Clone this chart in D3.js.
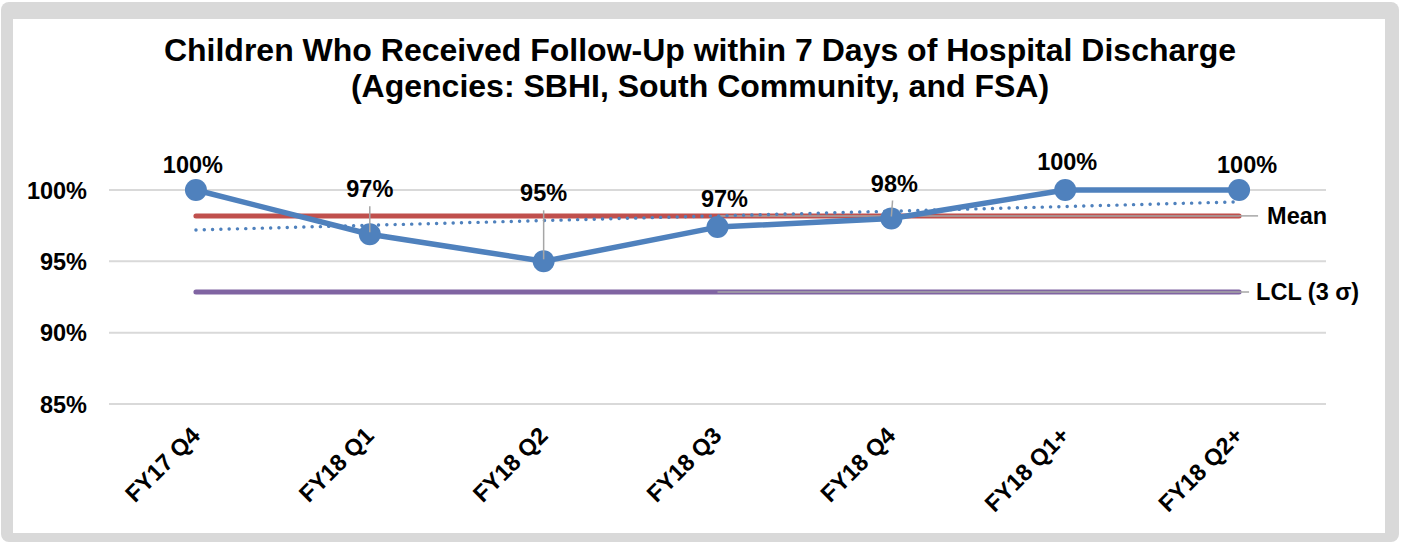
<!DOCTYPE html>
<html>
<head>
<meta charset="utf-8">
<script src="https://cdn.jsdelivr.net/npm/d3@7"></script>
<style>
  html, body { margin: 0; padding: 0; background: #ffffff; }
  svg text { font-family: "Liberation Sans", Arial, Helvetica, sans-serif; font-weight: bold; fill: #000; }
</style>
</head>
<body>
<svg id="chart" width="1401" height="543"></svg>
<script>
// ---------- data ----------
const categories = ["FY17 Q4", "FY18 Q1", "FY18 Q2", "FY18 Q3", "FY18 Q4", "FY18 Q1+", "FY18 Q2+"];
const values = [100, 96.9, 95.0, 97.4, 98.0, 100, 100];
const lclValues = [92.85, 92.85, 92.85, 92.85, 92.85, 92.85, 92.85];
const yTicks = [85, 90, 95, 100];
const titleLines = [
  "Children Who Received Follow-Up within 7 Days of Hospital Discharge",
  "(Agencies: SBHI, South Community, and FSA)"
];
const refLabels = ["Mean", "LCL (3 σ)"];

// derived series
const meanVal = d3.mean(values);
const meanValues = values.map(() => meanVal);
const xs = values.map((_, i) => i);
const mx = d3.mean(xs), my = meanVal;
const slope = d3.sum(xs, (x, i) => (x - mx) * (values[i] - my)) / d3.sum(xs, x => (x - mx) * (x - mx));
const trendValues = xs.map(x => my + slope * (x - mx));

// ---------- layout ----------
const W = 1401, H = 543;
const plot = { left: 109, right: 1326, top: 190, bottom: 404 };
const svg = d3.select("#chart");

// frame
svg.append("rect").attr("x", 1).attr("y", 2).attr("width", W - 3).attr("height", H - 3)
  .attr("rx", 8).attr("fill", "#d9d9d9");
svg.append("rect").attr("x", 13).attr("y", 19).attr("width", 1372).attr("height", 514)
  .attr("fill", "#ffffff");

// title
svg.append("g").selectAll("text").data(titleLines).join("text")
  .attr("x", 700).attr("y", (d, i) => 61 + i * 36)
  .attr("text-anchor", "middle").style("font-size", "32px")
  .text(d => d);

// scales
const x = d3.scalePoint().domain(categories).range([plot.left, plot.right]).padding(0.5);
const y = d3.scaleLinear().domain([85, 100]).range([plot.bottom, plot.top]);

// gridlines
svg.append("g").selectAll("line").data(yTicks).join("line")
  .attr("x1", plot.left).attr("x2", plot.right)
  .attr("y1", d => y(d)).attr("y2", d => y(d))
  .attr("stroke", "#d9d9d9").attr("stroke-width", 2);

// y axis labels (axis without domain/ticks)
const yAxis = d3.axisLeft(y).tickValues(yTicks).tickFormat(d => d + "%").tickSize(0).tickPadding(0);
const gy = svg.append("g").attr("transform", `translate(87,0)`).call(yAxis);
gy.select(".domain").remove();
gy.selectAll("text").attr("dy", null).attr("y", 8)
  .style("font-size", "23.5px").style("font-family", '"Liberation Sans", Arial, sans-serif')
  .style("font-weight", "bold").attr("fill", "#000");

// x axis labels
const xAxis = d3.axisBottom(x).tickSize(0);
const gx = svg.append("g").attr("transform", `translate(0,${plot.bottom})`).call(xAxis);
gx.select(".domain").remove();
gx.selectAll("text")
  .attr("dy", null).attr("y", 0).attr("x", 0)
  .attr("text-anchor", "end")
  .attr("transform", "translate(5,33) rotate(-45)")
  .style("font-size", "23.5px").style("font-family", '"Liberation Sans", Arial, sans-serif')
  .style("font-weight", "bold").attr("fill", "#000");

const line = d3.line().x((d, i) => x(categories[i])).y(d => y(d));

// LCL line
svg.append("path").datum(lclValues).attr("d", line)
  .attr("fill", "none").attr("stroke", "#8064a2").attr("stroke-width", 5).attr("stroke-linecap", "round");
// Mean line
svg.append("path").datum(meanValues).attr("d", line)
  .attr("fill", "none").attr("stroke", "#c0504d").attr("stroke-width", 5).attr("stroke-linecap", "round");

// grey projected segments (from FY18 Q3 onward)
const startIdx = 3;
[meanValues, lclValues].forEach(arr => {
  svg.append("path")
    .datum(arr.map((v, i) => i >= startIdx ? v : null))
    .attr("d", d3.line().defined(d => d !== null).x((d, i) => x(categories[i])).y(d => y(d)))
    .attr("fill", "none").attr("stroke", "#a6a6a6").attr("stroke-width", 1.5);
});

// trend line (dotted)
svg.append("path").datum(trendValues).attr("d", line)
  .attr("fill", "none").attr("stroke", "#4f81bd").attr("stroke-width", 3.4)
  .attr("stroke-linecap", "round").attr("stroke-dasharray", "0.1 8.2");

// main series
svg.append("path").datum(values).attr("d", line)
  .attr("fill", "none").attr("stroke", "#4f81bd").attr("stroke-width", 5.5).attr("stroke-linejoin", "round");
svg.append("g").selectAll("circle").data(values).join("circle")
  .attr("cx", (d, i) => x(categories[i])).attr("cy", d => y(d)).attr("r", 11)
  .attr("fill", "#4f81bd");

// data label offsets (layout, px relative to point)
const labelOffsets = [
  { dx: -3, dy: -17, leader: false },
  { dx: 0, dy: -37, leader: true },
  { dx: 0, dy: -60, leader: true },
  { dx: 7, dy: -20, leader: false },
  { dx: 3, dy: -27, leader: true },
  { dx: 2, dy: -20, leader: false },
  { dx: 8, dy: -17, leader: false }
];
const fmt = d3.format(".0%");
const lg = svg.append("g");
values.forEach((v, i) => {
  const px = x(categories[i]), py = y(v), o = labelOffsets[i];
  if (o.leader) {
    lg.append("line")
      .attr("x1", px + o.dx * 0.4).attr("y1", py + o.dy + 9)
      .attr("x2", px).attr("y2", py - 2)
      .attr("stroke", "#a6a6a6").attr("stroke-width", 1.5);
  }
  lg.append("text").attr("x", px + o.dx).attr("y", py + o.dy)
    .attr("text-anchor", "middle").style("font-size", "23.5px")
    .text(fmt(v / 100));
});

// reference labels
const lastX = x(categories[categories.length - 1]);
const refVals = [meanVal, lclValues[lclValues.length - 1]];
const refGaps = [{ lead: 19, tx: 28 }, { lead: 10, tx: 17 }];
refVals.forEach((v, i) => {
  svg.append("line").attr("x1", lastX).attr("x2", lastX + refGaps[i].lead)
    .attr("y1", y(v)).attr("y2", y(v)).attr("stroke", "#a6a6a6").attr("stroke-width", 1.5);
  svg.append("text").attr("x", lastX + refGaps[i].tx).attr("y", y(v) + 8)
    .style("font-size", "23.5px").text(refLabels[i]);
});
</script>
</body>
</html>
